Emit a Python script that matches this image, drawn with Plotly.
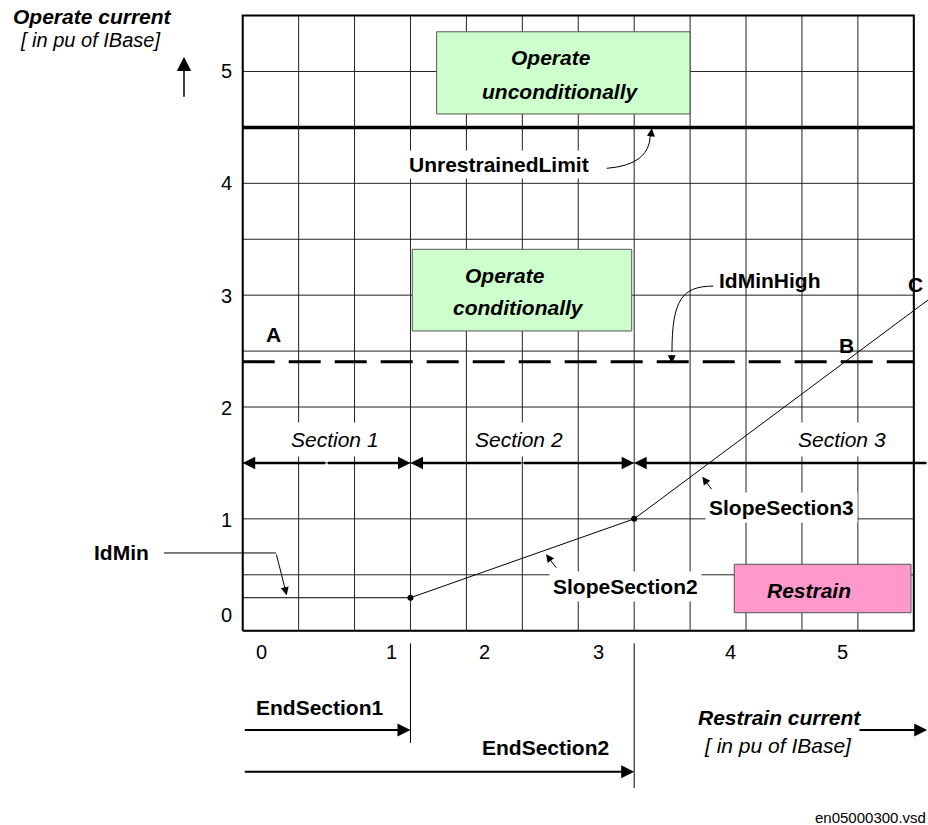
import numpy as np
import plotly.graph_objects as go

# ---------------- data (diagram units: one grid cell = 0.5) ----------------
grid_x = list(np.arange(0.0, 6.01, 0.5))
grid_y = list(np.arange(0.0, 5.51, 0.5))

x_tick_labels = ["0", "1", "2", "3", "4", "5"]
x_tick_pos = [0.17, 1.33, 2.16, 3.18, 4.36, 5.36]
y_tick_labels = ["0", "1", "2", "3", "4", "5"]
y_tick_pos = [0.14, 0.99, 1.99, 2.99, 4.0, 5.0]

char_x = [0.0, 1.5, 3.5, 6.127]      # operate characteristic
char_y = [0.295, 0.295, 1.0, 2.957]
knee_x = [1.5, 3.5]
knee_y = [0.295, 1.0]

unrestrained_limit = 4.5
idmin_high = 2.405
section_edges = [0.0, 1.5, 3.5, 6.127]
section_level = 1.5
section_labels = ["Section 1", "Section 2", "Section 3"]
section_label_x = [0.825, 2.47, 5.355]
end_sections = [1.5, 3.5]

X_RANGE = [-2.170, 6.127]
Y_RANGE = [-1.737, 5.639]

FONT = "Liberation Sans, Arial, sans-serif"
GRID_COL = "#222222"

fig = go.Figure()
annotations = []
shapes = []


def line(xs, ys, width=1, color="black", dash=None):
    fig.add_trace(go.Scatter(x=xs, y=ys, mode="lines", hoverinfo="skip", showlegend=False,
                             line=dict(color=color, width=width, dash=dash)))


def label(x, y, text, size=21, bold=False, italic=False, bg=None, xanchor="center", pad=2):
    t = text
    if italic:
        t = "<i>" + t + "</i>"
    if bold:
        t = "<b>" + t + "</b>"
    d = dict(x=x, y=y, xref="x", yref="y", text=t, showarrow=False,
             font=dict(family=FONT, size=size, color="black"),
             xanchor=xanchor, yanchor="middle")
    if bg:
        d.update(bgcolor=bg, borderpad=pad)
    annotations.append(d)


def arrow(x0, y0, x1, y1, width=1.0, size=1.0, head=2):
    annotations.append(dict(x=x1, y=y1, ax=x0, ay=y0, xref="x", yref="y", axref="x", ayref="y",
                            text="", showarrow=True, arrowhead=head, arrowsize=size,
                            arrowwidth=width, arrowcolor="black"))


def head(x, y, dx, dy, width=1.0, size=1.6):
    annotations.append(dict(x=x, y=y, xref="x", yref="y", ax=dx, ay=dy, text="", showarrow=True,
                            arrowhead=2, arrowsize=size, arrowwidth=width, arrowcolor="black"))


# grid
gx, gy = [], []
for v in grid_x:
    gx += [v, v, None]
    gy += [grid_y[0], grid_y[-1], None]
for v in grid_y:
    gx += [grid_x[0], grid_x[-1], None]
    gy += [v, v, None]
line(gx, gy, width=1, color=GRID_COL)

# frame
line([grid_x[0], grid_x[-1], grid_x[-1], grid_x[0], grid_x[0]],
     [grid_y[0], grid_y[0], grid_y[-1], grid_y[-1], grid_y[0]], width=2)

# limits
line([grid_x[0], grid_x[-1]], [unrestrained_limit] * 2, width=3.5)
line([grid_x[0], grid_x[-1]], [idmin_high] * 2, width=3, dash="32px,14px")

# characteristic
line(char_x, char_y, width=1)
fig.add_trace(go.Scatter(x=knee_x, y=knee_y, mode="markers", hoverinfo="skip", showlegend=False,
                         marker=dict(color="black", size=6)))

# IdMin leader
line([-0.704, 0.298], [0.695, 0.695], width=1)
arrow(0.298, 0.695, 0.393, 0.318, width=1, size=1.6)

# EndSection markers
line([end_sections[0]] * 2, [-0.113, -1.004], width=1)
line([end_sections[1]] * 2, [-0.113, -1.406], width=1)

# boxes
shapes.append(dict(type="rect", xref="x", yref="y", x0=1.734, x1=3.999, y0=4.620, y1=5.355,
                   fillcolor="#CCFFCC", line=dict(color="#555555", width=1), layer="above"))
shapes.append(dict(type="rect", xref="x", yref="y", x0=1.516, x1=3.478, y0=2.680, y1=3.410,
                   fillcolor="#CCFFCC", line=dict(color="#555555", width=1), layer="above"))
shapes.append(dict(type="rect", xref="x", yref="y", x0=4.395, x1=5.975, y0=0.161, y1=0.594,
                   fillcolor="#FF99CC", line=dict(color="#555555", width=1), layer="above"))

# curved leaders
shapes.append(dict(type="path", xref="x", yref="y",
                   path="M 3.254,4.134 Q 3.641,4.164 3.644,4.432",
                   line=dict(color="black", width=1)))
head(3.657, 4.492, -1, 10)
shapes.append(dict(type="path", xref="x", yref="y",
                   path="M 4.207,3.081 C 3.928,3.081 3.838,2.957 3.838,2.492",
                   line=dict(color="black", width=1)))
head(3.836, 2.391, 0, -10)

# section arrows
for i in range(2):
    a, b = section_edges[i], section_edges[i + 1]
    m = (a + b) / 2
    arrow(m, section_level, b, section_level, width=2.5)
    arrow(m, section_level, a, section_level, width=2.5)
arrow(section_edges[3], section_level, section_edges[2], section_level, width=2.5)

# bottom arrows
arrow(0.005, -0.888, end_sections[0], -0.888, width=2, size=1.3)
arrow(0.005, -1.261, end_sections[1], -1.261, width=2, size=1.3)
arrow(5.501, -0.888, 6.12, -0.888, width=2, size=1.3)
# y axis arrow
arrow(-0.525, 4.760, -0.525, 5.132, width=1.5, size=1.9)

# small slope arrows
arrow(4.202, 1.252, 4.109, 1.377, width=1, size=1.6)
arrow(2.813, 0.549, 2.712, 0.683, width=1, size=1.6)

# tick labels
for p, t in zip(x_tick_pos, x_tick_labels):
    label(p, -0.188, t, size=20)
for p, t in zip(y_tick_pos, y_tick_labels):
    label(-0.149, p, t, size=20)

# texts
label(-1.343, 5.490, "Operate current", bold=True, italic=True)
label(-1.365, 5.285, "[ in pu of IBase]", italic=True, size=20)
label(2.292, 4.170, "UnrestrainedLimit", bold=True, bg="white")
label(2.752, 5.129, "Operate", bold=True, italic=True)
label(2.841, 4.825, "unconditionally", bold=True, italic=True)
label(2.342, 3.180, "Operate", bold=True, italic=True)
label(2.464, 2.891, "conditionally", bold=True, italic=True)
label(4.714, 3.129, "IdMinHigh", bold=True)
label(0.274, 2.644, "A", bold=True)
label(5.400, 2.554, "B", bold=True)
label(6.011, 3.091, "C", bold=True)
for xl, t in zip(section_label_x, section_labels):
    label(xl, 1.71, t, italic=True, bg="white", pad=5)
label(4.819, 1.100, "SlopeSection3", bold=True, bg="white", pad=3)
label(3.425, 0.393, "SlopeSection2", bold=True, bg="white", pad=3)
label(5.061, 0.364, "Restrain", bold=True, italic=True)
label(-1.082, 0.695, "IdMin", bold=True)
label(0.688, -0.685, "EndSection1", bold=True)
label(2.707, -1.042, "EndSection2", bold=True)
label(4.797, -0.774, "Restrain current", bold=True, italic=True)
label(4.786, -1.022, "[ in pu of IBase]", italic=True)
label(5.617, -1.666, "en05000300.vsd", size=15)

fig.update_layout(
    width=928, height=825, margin=dict(l=0, r=0, t=0, b=0),
    paper_bgcolor="white", plot_bgcolor="white",
    xaxis=dict(range=X_RANGE, visible=False, fixedrange=True),
    yaxis=dict(range=Y_RANGE, visible=False, fixedrange=True),
    annotations=annotations, shapes=shapes, showlegend=False,
)

fig.write_html("out.html", config={"displayModeBar": False},
               post_script="document.body.style.margin='0';")
